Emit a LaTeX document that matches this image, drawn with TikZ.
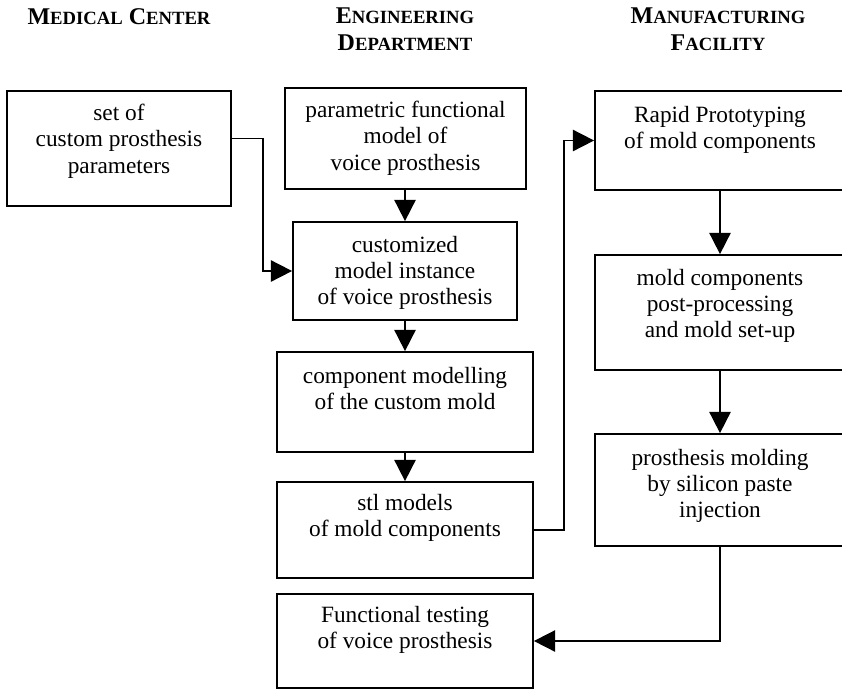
\documentclass[tikz,border=0pt]{standalone}
\usepackage{fontspec}
\setmainfont{Liberation Serif}
\usepackage{tikz}
\usetikzlibrary{arrows.meta,positioning}

\newcommand{\smc}[1]{{\fontsize{14}{20}\selectfont #1}}

\tikzset{
  box/.style={draw, line width=1.3pt, inner sep=0pt},
  txt/.style={anchor=north, inner sep=0pt, align=center, font=\fontsize{17.5}{19.7}\selectfont},
  head/.style={anchor=north, inner sep=0pt, align=center, font=\fontsize{18}{20}\selectfont\bfseries},
  arr/.style={line width=1.3pt, -{Triangle[length=16pt,width=16pt]}}
}

\begin{document}
\begin{tikzpicture}[x=0.75pt,y=0.75pt,yscale=-1,xscale=1]
\useasboundingbox (0,0) rectangle (842,689);

% Headers
\node [head] (hmed) at (119,8) {M\smc{EDICAL} C\smc{ENTER}};
\node [head] (heng) at (405,8) {E\smc{NGINEERING}\\D\smc{EPARTMENT}};
\node [head] (hman) at (718,8) {M\smc{ANUFACTURING}\\F\smc{ACILITY}};

%Shape: Rectangle
\node [box, minimum width=168pt, minimum height=86.25pt] (params) at (119,148.5) {};
\node [box, minimum width=180.75pt, minimum height=75.75pt] (model) at (405.5,138.5) {};
\node [box, minimum width=168pt, minimum height=73.5pt] (custom) at (405,271) {};
\node [box, minimum width=192pt, minimum height=75pt] (comp) at (405,402) {};
\node [box, minimum width=192pt, minimum height=72pt] (stl) at (405,530) {};
\node [box, minimum width=192pt, minimum height=70.5pt] (test) at (405,641) {};
\node [box, minimum width=187.5pt, minimum height=74.25pt] (rapid) at (720,140.5) {};
\node [box, minimum width=187.5pt, minimum height=86.25pt] (post) at (720,312.5) {};
\node [box, minimum width=187.5pt, minimum height=84pt] (mold) at (720,490) {};

% Text Node
\node [txt] (params-t) at (119,104) {set of\\custom prosthesis\\parameters};
\node [txt] (model-t) at (405.5,101) {parametric functional\\model of\\voice prosthesis};
\node [txt] (custom-t) at (405,236) {customized\\model instance\\of voice prosthesis};
\node [txt] (comp-t) at (405,367) {component modelling\\of the custom mold};
\node [txt] (stl-t) at (405,494) {stl models\\of mold components};
\node [txt] (test-t) at (405,606) {Functional testing\\of voice prosthesis};
\node [txt] (rapid-t) at (720,106) {Rapid Prototyping\\of mold components};
\node [txt] (post-t) at (720,269) {mold components\\post-processing\\and mold set-up};
\node [txt] (mold-t) at (720,449) {prosthesis molding\\by silicon paste\\injection};

%Straight Lines
\draw [arr] (params.east |- model.center) -- ++(31,0) |- (custom.west);
\draw [arr] (custom.north |- model.south) -- (custom.north);
\draw [arr] (custom.south) -- (comp.north);
\draw [arr] (comp.south) -- (stl.north);
\draw [arr] (stl.east) -- ++(30,0) |- (rapid.west);
\draw [arr] (rapid.south) -- (post.north);
\draw [arr] (post.south) -- (mold.north);
\draw [arr] (mold.south) |- (test.east);
\end{tikzpicture}
\end{document}
